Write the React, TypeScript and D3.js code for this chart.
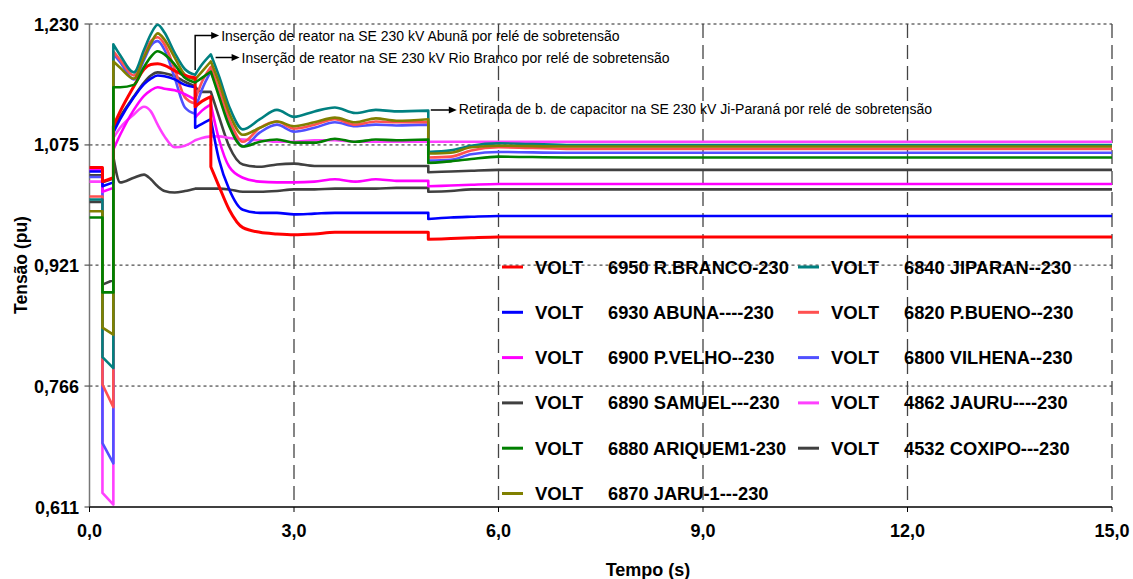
import React from "react";
import * as d3 from "d3";

// Time samples (s); repeated instants mark switching events (steps)
const time = [0, 0.19, 0.19, 0.35, 0.35, 0.45, 0.65, 0.8, 0.9, 1.0, 1.1, 1.25, 1.4, 1.55, 1.55, 1.65, 1.78, 1.78, 1.9, 2.05, 2.25, 2.5, 2.75, 3.0, 3.3, 3.6, 3.9, 4.2, 4.5, 4.97, 4.97, 5.3, 5.6, 6.0, 7.0, 15.0];

// Voltage (pu) per bus
const rBranco = [1.046,1.046,1.028,1.033,1.099,1.118,1.150,1.172,1.178,1.179,1.177,1.170,1.164,1.161,1.124,1.131,1.137,1.047,1.022,0.992,0.969,0.963,0.961,0.960,0.961,0.963,0.963,0.963,0.963,0.963,0.954,0.955,0.956,0.957,0.957,0.957];
const abuna = [1.041,1.041,1.022,1.027,1.091,1.108,1.136,1.153,1.160,1.164,1.163,1.159,1.152,1.149,1.097,1.102,1.108,1.108,1.056,1.018,0.992,0.988,0.988,0.986,0.987,0.988,0.988,0.988,0.988,0.988,0.980,0.982,0.983,0.984,0.984,0.984];
const pVelho = [1.043,1.043,1.015,1.020,1.069,1.088,1.120,1.138,1.145,1.149,1.147,1.145,1.140,1.133,1.110,1.119,1.127,1.127,1.082,1.047,1.033,1.028,1.027,1.027,1.028,1.031,1.028,1.031,1.029,1.029,1.022,1.023,1.024,1.025,1.025,1.025];
const samuel = [1.036,1.036,1.027,1.032,1.060,1.027,1.033,1.037,1.031,1.022,1.016,1.014,1.016,1.019,1.019,1.019,1.019,1.019,1.019,1.018,1.015,1.015,1.016,1.018,1.018,1.019,1.019,1.019,1.020,1.020,1.015,1.016,1.018,1.018,1.018,1.018];
const ariquem = [0.982,0.982,0.886,0.886,1.149,1.149,1.152,1.175,1.188,1.195,1.191,1.178,1.161,1.155,1.155,1.161,1.169,1.169,1.137,1.099,1.073,1.079,1.082,1.078,1.078,1.083,1.079,1.082,1.081,1.082,1.052,1.054,1.057,1.060,1.059,1.059];
const jaru = [0.990,0.990,0.841,0.832,1.182,1.174,1.160,1.187,1.205,1.218,1.210,1.187,1.165,1.159,1.159,1.169,1.182,1.182,1.155,1.116,1.088,1.097,1.105,1.099,1.104,1.110,1.104,1.109,1.106,1.108,1.064,1.065,1.072,1.074,1.073,1.073];
const jiparan = [1.005,1.005,0.803,0.789,1.204,1.190,1.168,1.197,1.217,1.229,1.219,1.193,1.172,1.165,1.165,1.178,1.191,1.191,1.163,1.124,1.095,1.108,1.120,1.111,1.118,1.123,1.116,1.120,1.118,1.119,1.066,1.068,1.074,1.077,1.075,1.075];
const pBueno = [1.009,1.009,0.768,0.739,1.195,1.184,1.164,1.191,1.208,1.213,1.204,1.172,1.136,1.128,1.133,1.156,1.175,1.175,1.146,1.108,1.079,1.097,1.105,1.096,1.101,1.108,1.101,1.105,1.104,1.104,1.059,1.060,1.068,1.072,1.070,1.070];
const vilhena = [1.034,1.034,0.693,0.667,1.192,1.181,1.159,1.184,1.202,1.208,1.197,1.161,1.123,1.115,1.120,1.146,1.169,1.169,1.142,1.104,1.073,1.091,1.101,1.092,1.097,1.104,1.099,1.101,1.100,1.101,1.055,1.056,1.063,1.066,1.065,1.065];
const jauru = [1.028,1.028,0.629,0.614,1.084,1.097,1.114,1.124,1.118,1.101,1.086,1.072,1.074,1.081,1.081,1.084,1.086,1.086,1.086,1.084,1.082,1.081,1.079,1.079,1.081,1.081,1.079,1.079,1.079,1.079,1.079,1.079,1.079,1.079,1.079,1.079];
const coxipo = [1.002,1.002,0.896,0.902,1.095,1.111,1.137,1.155,1.164,1.168,1.167,1.163,1.156,1.150,1.149,1.143,1.143,1.143,1.111,1.073,1.050,1.047,1.050,1.051,1.048,1.048,1.048,1.048,1.048,1.048,1.040,1.041,1.042,1.043,1.043,1.043];

const seriesNames = ["6950 R.BRANCO-230","6930 ABUNA----230","6900 P.VELHO--230","6890 SAMUEL---230","6880 ARIQUEM1-230","6870 JARU-1---230","6840 JIPARAN--230","6820 P.BUENO--230","6800 VILHENA--230","4862 JAURU----230","4532 COXIPO---230"];
const seriesColors = ["#ff0000","#0000ff","#ff00ff","#404040","#008000","#808000","#008080","#ff5050","#5050ff","#ff40ff","#404040"];
const seriesValues = [rBranco, abuna, pVelho, samuel, ariquem, jaru, jiparan, pBueno, vilhena, jauru, coxipo];
// drawing order (index into the series above; last is on top)
const drawOrder = [10, 3, 9, 8, 7, 6, 5, 2, 1, 0, 4];

const yTicks = [0.611, 0.766, 0.921, 1.075, 1.230];
const yTickLabels = ["0,611", "0,766", "0,921", "1,075", "1,230"];
const xTicks = [0, 3, 6, 9, 12, 15];
const xTickLabels = ["0,0", "3,0", "6,0", "9,0", "12,0", "15,0"];

const annotations = [
  { text: "Inserção de reator na SE 230 kV Abunã por relé de sobretensão", t: 1.55 },
  { text: "Inserção de reator na SE 230 kV Rio Branco por relé de sobretensão", t: 1.85 },
  { text: "Retirada de b. de capacitor na SE 230 kV Ji-Paraná por relé de sobretensão", t: 4.97 },
];

const W = 1133, H = 579;
const M = { left: 89.5, right: 1112, top: 24, bottom: 507 };
const FONT = "'Liberation Sans', Arial, Helvetica, sans-serif";

export default function App() {
  const x = d3.scaleLinear().domain([0, 15]).range([M.left, M.right]);
  const y = d3.scaleLinear().domain([0.611, 1.23]).range([M.bottom, M.top]);
  const line = d3.line<[number, number]>().curve(d3.curveMonotoneX);

  const buildPath = (vals: number[]) => {
    const segs: [number, number][][] = [];
    let cur: [number, number][] = [[x(time[0]), y(vals[0])]];
    for (let i = 1; i < time.length; i++) {
      const p: [number, number] = [x(time[i]), y(vals[i])];
      if (time[i] === time[i - 1]) { segs.push(cur); cur = [p]; } else cur.push(p);
    }
    segs.push(cur);
    return segs
      .map((s, k) => {
        const d = s.length > 1 ? (line(s) as string) : `M${s[0][0]},${s[0][1]}`;
        return k === 0 ? d : "L" + d.slice(1);
      })
      .join("");
  };

  const a1x = x(annotations[0].t), a1y = 35.5;
  const a2x0 = x(annotations[1].t), a2y = 57.5;
  const a3x0 = x(annotations[2].t) + 2.5, a3y = 110;

  const arrowHead = (xe: number, ye: number) =>
    `M${xe},${ye} L${xe - 8},${ye - 3.5} L${xe - 8},${ye + 3.5} Z`;

  return (
    <svg width={W} height={H} style={{ position: "absolute", left: 0, top: 0, background: "#fff" }} fontFamily={FONT}>
      <rect x={0} y={0} width={W} height={H} fill="#fff" />
      {yTicks.slice(1).map((v, i) => (
        <line key={"hg" + i} x1={M.left} x2={M.right} y1={y(v)} y2={y(v)} stroke="#222" strokeWidth={1} strokeDasharray="3,3" />
      ))}
      {xTicks.slice(1).map((t, i) => (
        <line key={"vg" + i} x1={x(t)} x2={x(t)} y1={M.top} y2={M.bottom} stroke="#444" strokeWidth={1.3} strokeDasharray="14,7" />
      ))}
      <line x1={M.left} x2={M.left} y1={M.top} y2={M.bottom} stroke="#777" strokeWidth={1.5} />
      <line x1={M.left} x2={M.right} y1={M.bottom} y2={M.bottom} stroke="#000" strokeWidth={1.5} />
      {yTicks.map((v, i) => (
        <g key={"yt" + i}>
          <line x1={M.left - 5} x2={M.left} y1={y(v)} y2={y(v)} stroke="#333" strokeWidth={1} />
          <text x={79} y={y(v) + 6.5} textAnchor="end" fontSize={18} fontWeight="bold" fill="#000">{yTickLabels[i]}</text>
        </g>
      ))}
      {xTicks.map((t, i) => (
        <g key={"xt" + i}>
          <line x1={x(t)} x2={x(t)} y1={M.bottom} y2={M.bottom + 5} stroke="#000" strokeWidth={1} />
          <text x={x(t)} y={536.5} textAnchor="middle" fontSize={18} fontWeight="bold" fill="#000">{xTickLabels[i]}</text>
        </g>
      ))}
      <text x={648} y={576} textAnchor="middle" fontSize={18} fontWeight="bold">Tempo (s)</text>
      <text transform="translate(27,265) rotate(-90)" textAnchor="middle" fontSize={17.5} fontWeight="bold">Tensão (pu)</text>

      {drawOrder.map((i) => (
        <path key={"s" + i} d={buildPath(seriesValues[i])} fill="none" stroke={seriesColors[i]} strokeWidth={i === 0 ? 3 : 2.6} strokeLinejoin="round" />
      ))}

      {seriesNames.map((name, i) => {
        const col = i < 6 ? 0 : 1;
        const row = i < 6 ? i : i - 6;
        const cx = col === 0 ? 502 : 798;
        const cy = 267 + row * 45.3;
        return (
          <g key={"lg" + i}>
            <line x1={cx} x2={cx + 21} y1={cy} y2={cy} stroke={seriesColors[i]} strokeWidth={3} />
            <text x={cx + 33} y={cy + 6.5} fontSize={18.5} fontWeight="bold">VOLT</text>
            <text x={cx + 106} y={cy + 6.5} fontSize={18.3} fontWeight="bold">{name}</text>
          </g>
        );
      })}

      <path d={`M${a1x},70 L${a1x},${a1y} L${a1x + 17},${a1y}`} fill="none" stroke="#000" strokeWidth={1.5} />
      <path d={arrowHead(a1x + 24, a1y)} fill="#000" />
      <text x={a1x + 26} y={40.5} fontSize={14}>{annotations[0].text}</text>

      <line x1={a2x0} x2={a2x0 + 17} y1={a2y} y2={a2y} stroke="#000" strokeWidth={1.5} />
      <path d={arrowHead(a2x0 + 24, a2y)} fill="#000" />
      <text x={a2x0 + 26} y={63} fontSize={14}>{annotations[1].text}</text>

      <line x1={a3x0} x2={a3x0 + 19} y1={a3y} y2={a3y} stroke="#000" strokeWidth={1.5} />
      <path d={arrowHead(a3x0 + 26, a3y)} fill="#000" />
      <text x={a3x0 + 28} y={114} fontSize={14}>{annotations[2].text}</text>
    </svg>
  );
}
